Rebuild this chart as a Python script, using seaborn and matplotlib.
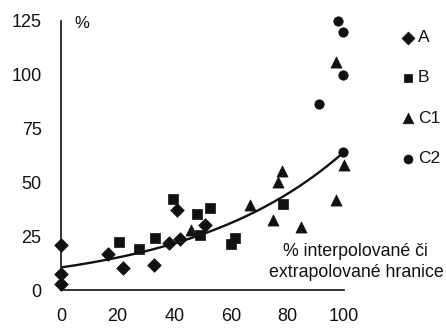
import numpy as np
import pandas as pd
import matplotlib
matplotlib.use("Agg")
import matplotlib.pyplot as plt
import seaborn as sns

# Measured boundary series: x = share of interpolated/extrapolated boundary (%), y = error (%)
a_x = [0, 0, 0, 16.5, 22, 33, 38, 41, 42, 51]
a_y = [21, 7.3, 2.8, 16.6, 10.4, 11.6, 22, 37, 23.5, 30]

b_x = [20.5, 27.6, 33.2, 39.5, 48, 49, 52.6, 60, 61.5, 78.6]
b_y = [22.5, 18.9, 24, 42.1, 35.3, 25.6, 38.3, 21.5, 24, 40]

c1_x = [46, 66.8, 75, 76.8, 78, 84.7, 97, 97, 100]
c1_y = [28, 39.5, 32.5, 50.3, 55.4, 29.4, 41.8, 106, 58]

c2_x = [91.2, 97.8, 99.8, 99.8, 99.8]
c2_y = [86.3, 125, 119.7, 100, 64.3]

series_names = ["A", "B", "C1", "C2"]

# Exponential trend y = a * exp(b * x)
trend_a = 10.5
trend_b = 0.0181

x_ticks = [0, 20, 40, 60, 80, 100]
y_ticks = [0, 25, 50, 75, 100, 125]

frames = []
for name, xs, ys in zip(series_names, [a_x, b_x, c1_x, c2_x], [a_y, b_y, c1_y, c2_y]):
    frames.append(pd.DataFrame({"x": xs, "y": ys, "series": name}))
df = pd.concat(frames, ignore_index=True)

sns.set_theme(style="white")
plt.rcParams["font.family"] = ["Liberation Sans", "DejaVu Sans"]
ink = "#111111"

fig = plt.figure(figsize=(4.46, 3.29), dpi=100)
ax = fig.add_axes([0.1368, 0.1185, 0.6345, 0.8177])

markers = {"A": "D", "B": "s", "C1": "^", "C2": "o"}
sizes = {"A": 48, "B": 46, "C1": 64, "C2": 46}
for name in series_names:
    sub = df[df["series"] == name]
    sns.scatterplot(data=sub, x="x", y="y", marker=markers[name], s=sizes[name],
                    color=ink, edgecolor=ink, linewidth=0.5, ax=ax,
                    label=name, clip_on=False, zorder=3)

tx = np.linspace(0, 100, 200)
ax.plot(tx, trend_a * np.exp(trend_b * tx), color=ink, lw=1.7, zorder=2)

ax.set_xlim(0, 100)
ax.set_ylim(0, 125)
ax.set_xticks(x_ticks)
ax.set_yticks(y_ticks)
ax.set_xlabel("")
ax.set_ylabel("")
for s in ["top", "right"]:
    ax.spines[s].set_visible(False)
for s in ["left", "bottom"]:
    ax.spines[s].set_color(ink)
    ax.spines[s].set_linewidth(1.2)
ax.tick_params(axis="both", direction="out", colors=ink, labelsize=13,
               width=1.1, length=5, pad=8, labelcolor=ink)
ax.tick_params(axis="y", length=6)

ax.text(7.3, 124, "%", fontsize=12, color=ink, ha="center", va="center")
ax.text(104.2, 13.0, "% interpolované či\nextrapolované hranice", fontsize=12.8,
        color=ink, ha="center", va="center", linespacing=1.35, clip_on=False)

leg = ax.legend(loc="upper left", bbox_to_anchor=(0.88, 0.93),
                bbox_transform=fig.transFigure, frameon=False, fontsize=12.5,
                labelspacing=1.45, handletextpad=0.05, handlelength=1.0,
                borderaxespad=0, markerscale=0.95)
for t in leg.get_texts():
    t.set_color(ink)

fig.savefig("out.png", dpi=100)
